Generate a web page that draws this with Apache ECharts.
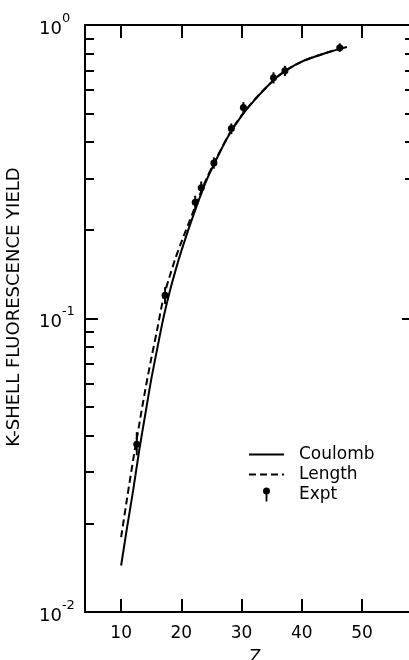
<!DOCTYPE html>
<html>
<head>
<meta charset="utf-8">
<script src="https://cdn.jsdelivr.net/npm/echarts@6/dist/echarts.min.js"></script>
<style>html,body{margin:0;padding:0;background:#fff}#c{width:409px;height:660px}</style>
</head>
<body>
<div id="c"></div>
<script>
// ---- data ----
const coulombZ = [10, 11, 12, 13, 14, 15, 16, 17, 18, 19, 20, 22, 24, 26, 28, 30, 32, 34, 36, 38, 40, 42, 44, 46, 47.5];
const coulombY = [0.0144, 0.0195, 0.026, 0.0355, 0.047, 0.062, 0.079, 0.100, 0.122, 0.145, 0.170, 0.225, 0.290, 0.355, 0.425, 0.490, 0.550, 0.610, 0.668, 0.713, 0.750, 0.778, 0.803, 0.826, 0.842];
const lengthZ  = [10, 11, 12, 13, 14, 15, 16, 17, 18, 19, 20, 22, 24, 26, 28, 30, 32, 34, 36, 38, 40, 42, 44, 46, 47.5];
const lengthY  = [0.018, 0.0245, 0.033, 0.0435, 0.057, 0.073, 0.092, 0.117, 0.138, 0.160, 0.182, 0.232, 0.294, 0.357, 0.427, 0.492, 0.552, 0.610, 0.668, 0.713, 0.750, 0.778, 0.803, 0.826, 0.842];
const exptZ    = [12.6, 17.3, 22.3, 23.3, 25.4, 28.3, 30.3, 35.3, 37.2, 46.3];
const exptY    = [0.0373, 0.120, 0.249, 0.279, 0.339, 0.444, 0.524, 0.661, 0.698, 0.837];
const exptLow  = [0.0342, 0.112, 0.236, 0.265, 0.324, 0.425, 0.502, 0.632, 0.670, 0.810];
const exptHigh = [0.0410, 0.128, 0.262, 0.293, 0.354, 0.462, 0.546, 0.690, 0.726, 0.866];
const xTickValues = [10, 20, 30, 40, 50];
const yMajorValues = [0.01, 0.1, 1];
const yMinorValues = [0.02, 0.03, 0.04, 0.05, 0.06, 0.07, 0.08, 0.09, 0.2, 0.3, 0.4, 0.5, 0.6, 0.7, 0.8, 0.9];
const yRightValues = [0.3, 0.4, 0.5, 0.6, 0.7, 0.8, 0.9];
const yRightMajor = [0.1];
const seriesNames = ['Coulomb', 'Length', 'Expt'];
const xName = 'Z';
const yName = 'K-SHELL FLUORESCENCE YIELD';

const FONT = 'DejaVu Sans';
const exptIcon = 'path://M2.6,3 L4.4,3 L4.4,14 L2.6,14 Z M0,3.5 A3.5,3.5 0 1,1 7,3.5 A3.5,3.5 0 1,1 0,3.5 Z';

const chart = echarts.init(document.getElementById('c'), null, {renderer: 'canvas'});
const pair = (xs, ys) => xs.map((x, i) => [x, ys[i]]);

const baseLog = {type: 'log', logBase: 10, min: 0.01, max: 1, splitLine: {show: false}};

chart.setOption({
  animation: false,
  backgroundColor: '#fff',
  grid: {left: 85, right: 0, top: 25, bottom: 48, containLabel: false, outerBoundsMode: 'none'},
  legend: {
    orient: 'vertical', left: 243, top: 441,
    itemWidth: 35, itemHeight: 14, itemGap: 3,
    textStyle: {fontFamily: FONT, fontSize: 17, color: '#000', padding: [0, 0, 0, 10]},
    data: [
      {name: seriesNames[0], icon: 'inherit', itemStyle: {opacity: 0}},
      {name: seriesNames[1], icon: 'inherit', itemStyle: {opacity: 0}},
      {name: seriesNames[2], icon: exptIcon, itemStyle: {color: '#000', opacity: 1}}
    ]
  },
  xAxis: [
    {
      type: 'value', position: 'bottom', min: 4, max: 57.8,
      name: xName, nameLocation: 'middle', nameGap: 37,
      nameTextStyle: {fontFamily: FONT, fontSize: 17, color: '#000', padding: [0, 0, 0, 17]},
      axisLine: {show: true, lineStyle: {color: '#000', width: 2}},
      axisTick: {show: true, inside: true, length: 13, customValues: xTickValues, lineStyle: {color: '#000', width: 2}},
      axisLabel: {show: true, customValues: xTickValues, margin: 13, fontFamily: FONT, fontSize: 17, color: '#000'},
      splitLine: {show: false}
    },
    {
      type: 'value', position: 'top', min: 4, max: 57.8,
      axisLine: {show: true, lineStyle: {color: '#000', width: 2}},
      axisTick: {show: true, inside: true, length: 13, customValues: xTickValues, lineStyle: {color: '#000', width: 2}},
      axisLabel: {show: false},
      splitLine: {show: false}
    }
  ],
  yAxis: [
    Object.assign({}, baseLog, {
      position: 'left',
      name: yName, nameLocation: 'middle', nameGap: 62, nameRotate: 90,
      nameTextStyle: {fontFamily: FONT, fontSize: 18, color: '#000', padding: [0, 0, 0, 23]},
      axisLine: {show: true, lineStyle: {color: '#000', width: 2}},
      axisTick: {show: true, inside: true, length: 13, customValues: yMajorValues, lineStyle: {color: '#000', width: 2}},
      axisLabel: {
        show: true, customValues: yMajorValues, align: 'left', margin: 46,
        formatter: function (v) {
          const e = Math.round(Math.log10(v));
          return '{b|10}{s|' + (e < 0 ? '-' + (-e) : String(e)) + '}';
        },
        rich: {
          b: {fontFamily: FONT, fontSize: 18, color: '#000', lineHeight: 26, verticalAlign: 'bottom'},
          s: {fontFamily: FONT, fontSize: 13, color: '#000', lineHeight: 26, verticalAlign: 'top'}
        }
      }
    }),
    Object.assign({}, baseLog, {
      position: 'left', offset: 0,
      axisLine: {show: false},
      axisTick: {show: true, inside: true, length: 9, customValues: yMinorValues, lineStyle: {color: '#000', width: 2}},
      axisLabel: {show: false}
    }),
    Object.assign({}, baseLog, {
      position: 'right', offset: 0,
      axisLine: {show: false},
      axisTick: {show: true, inside: true, length: 4, customValues: yRightValues, lineStyle: {color: '#000', width: 2}},
      axisLabel: {show: false}
    }),
    Object.assign({}, baseLog, {
      position: 'right', offset: 0,
      axisLine: {show: false},
      axisTick: {show: true, inside: true, length: 7, customValues: yRightMajor, lineStyle: {color: '#000', width: 2}},
      axisLabel: {show: false}
    })
  ],
  series: [
    {
      name: seriesNames[0], type: 'line', xAxisIndex: 0, yAxisIndex: 0,
      data: pair(coulombZ, coulombY), smooth: 0.3, symbol: 'none',
      lineStyle: {color: '#000', width: 2, type: 'solid'}, itemStyle: {color: '#000'}
    },
    {
      name: seriesNames[1], type: 'line', xAxisIndex: 0, yAxisIndex: 0,
      data: pair(lengthZ, lengthY), smooth: 0.3, symbol: 'none',
      lineStyle: {color: '#000', width: 2, type: [7, 4]}, itemStyle: {color: '#000'}
    },
    {
      name: seriesNames[2], type: 'custom', xAxisIndex: 0, yAxisIndex: 0,
      data: exptZ.map((z, i) => [z, exptLow[i], exptHigh[i]]),
      renderItem: function (params, api) {
        const p1 = api.coord([api.value(0), api.value(1)]);
        const p2 = api.coord([api.value(0), api.value(2)]);
        return {type: 'line', shape: {x1: p1[0], y1: p1[1], x2: p2[0], y2: p2[1]},
                style: {stroke: '#000', lineWidth: 2}};
      },
      itemStyle: {color: '#000'}, z: 3
    },
    {
      name: seriesNames[2], type: 'scatter', xAxisIndex: 0, yAxisIndex: 0,
      data: pair(exptZ, exptY), symbol: 'circle', symbolSize: 7,
      itemStyle: {color: '#000', opacity: 1}, z: 4
    }
  ]
});
</script>
</body>
</html>
